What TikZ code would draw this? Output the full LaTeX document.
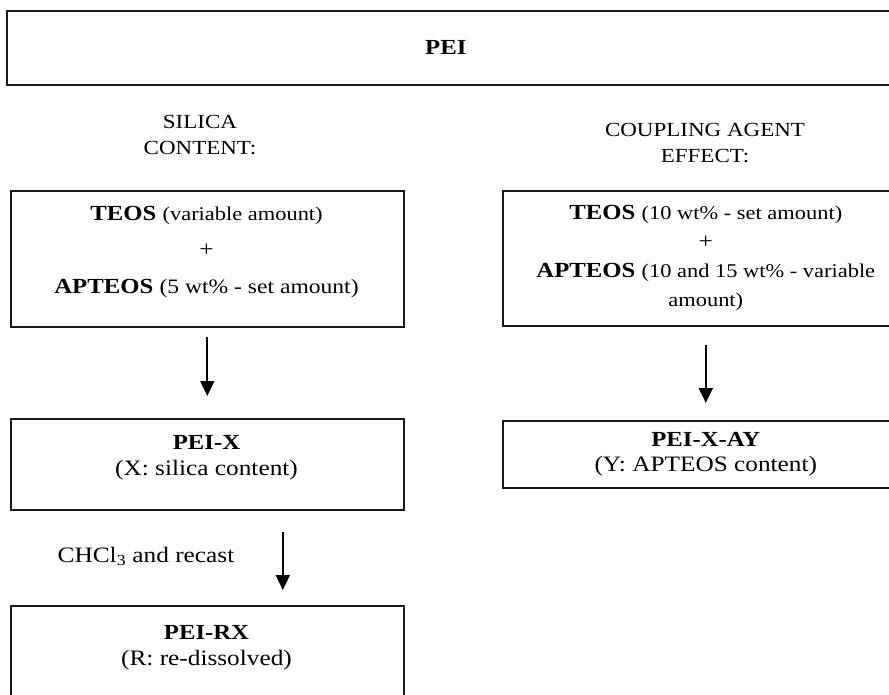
\documentclass[tikz,border=0pt]{standalone}
\usepackage{fontspec}
\setmainfont{Liberation Serif}[FakeStretch=1.15]
\usetikzlibrary{arrows.meta}
\tikzset{
  box/.style={draw=black!90, line width=1.6pt, rectangle, inner sep=0pt, align=center, anchor=north west},
  arr/.style={line width=1.9pt, -{Triangle[length=15pt,width=14pt]}},
  big/.style={font=\fontsize{22}{25.5}\selectfont},
  head/.style={font=\fontsize{20}{26}\selectfont, align=center},
}
\newcommand{\bd}[1]{{\fontsize{21.5}{25}\selectfont\bfseries #1}}
\newcommand{\sm}[1]{{\fontsize{19.5}{22}\selectfont #1}}
\begin{document}
\begin{tikzpicture}[x=1pt,y=-1pt]
\useasboundingbox (0,0) rectangle (889,694);
\clip (0,0) rectangle (889,694);
% boxes
\node[box, minimum width=900pt, minimum height=74pt, big] (pei) at (6,10) {\bd{PEI}\hspace*{22pt}};
\node[head] (silh) at (200,135) {SILICA\\CONTENT:};
\node[head] (couph) at (705,143) {COUPLING AGENT\\EFFECT:};
\node[box, minimum width=393pt, minimum height=136pt] (sil) at (10,190) {};
\node[big, align=center] (silt) at (206.5,252) {\bd{TEOS} \sm{(variable amount)}\\[11pt] +\\[11pt] \bd{APTEOS} {\fontsize{20.5}{22}\selectfont (5 wt\% - set amount)}};
\node[box, minimum width=406pt, minimum height=135pt, font=\fontsize{22}{29}\selectfont] (cpl) at (502,190) {\bd{TEOS} \sm{(10 wt\% - set amount)}\\ +\\ \bd{APTEOS} \sm{(10 and 15 wt\% - variable}\\ \sm{amount)}};
\node[box, minimum width=393pt, minimum height=91pt] (peix) at (10,418) {};
\node[big, align=center] (peixt) at (206.5,458) {\bd{PEI-X}\\(X: silica content)};
\node[box, minimum width=406pt, minimum height=67pt, big] (peiay) at (502,420) {\bd{PEI-X-AY}\\(Y: APTEOS content)};
\node[box, minimum width=393pt, minimum height=120pt] (peirx) at (10,605) {};
\node[big, align=center] (peirxt) at (206.5,648) {\bd{PEI-RX}\\(R: re-dissolved)};
\node[big] (chcl) at (146,556) {CHCl\textsubscript{3} and recast};
% arrows
\draw[arr] ([yshift=-9pt]sil.south) -- ([yshift=22pt]peix.north);
\draw[arr] ([xshift=75.5pt,yshift=-21pt]peix.south) -- ([xshift=75.5pt,yshift=15pt]peirx.north);
\draw[arr] ([yshift=-18pt]cpl.south) -- ([yshift=17pt]peiay.north);
\end{tikzpicture}
\end{document}
